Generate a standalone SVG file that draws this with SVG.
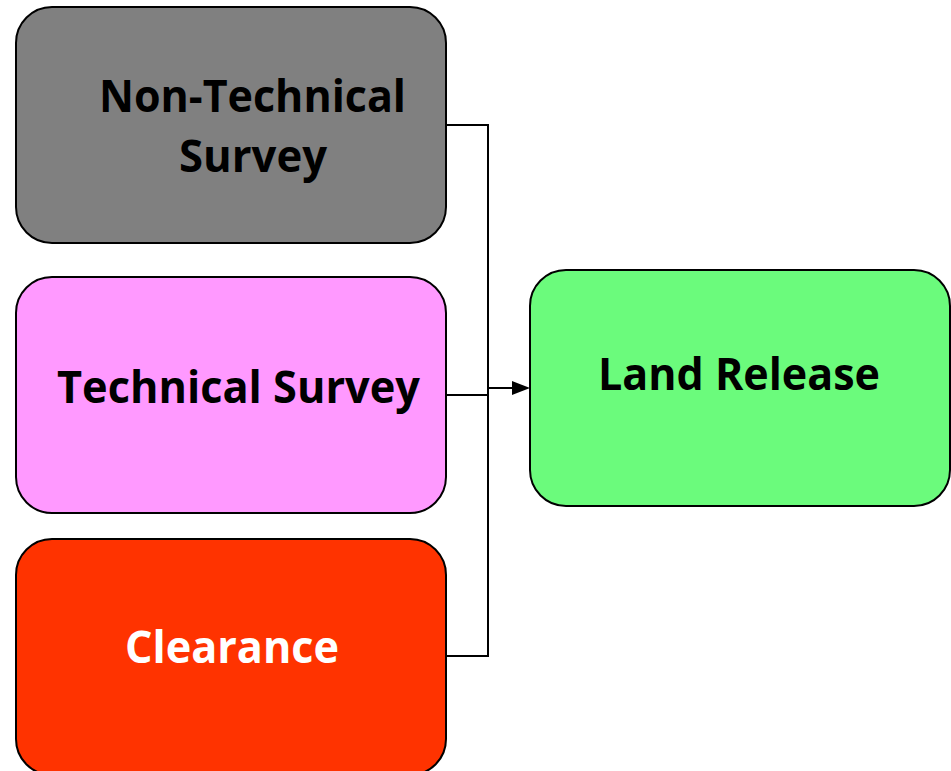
<svg xmlns="http://www.w3.org/2000/svg" width="951" height="771" viewBox="0 0 951 771">
<style>
.box{stroke:#000;stroke-width:2}
.lbl{font-family:"Open Sans","Liberation Sans",sans-serif;font-weight:bold;font-size:44px}
.conn{fill:none;stroke:#000;stroke-width:2}
</style>
<defs>
<marker id="arr" markerWidth="10" markerHeight="10" refX="9" refY="5" orient="auto" markerUnits="userSpaceOnUse" viewBox="0 0 10 10">
<path d="M0,0 L10,5 L0,10 Z" fill="#000"/>
</marker>
</defs>
<rect width="951" height="771" fill="#fff"/>
<g id="connectors">
<path class="conn" d="M446,125 H488 V656 H446"/>
<path class="conn" d="M446,395 H488"/>
<path d="M488,388 H512" class="conn"/>
<path d="M512,381 L530,388 L512,395 Z" fill="#000"/>
</g>
<g id="non-technical-survey">
<rect class="box" x="16" y="7" width="430" height="236" rx="36" fill="#808080"/>
<text class="lbl" x="99" y="112" textLength="307" lengthAdjust="spacingAndGlyphs">Non-Technical</text>
<text class="lbl" x="179" y="172" textLength="148" lengthAdjust="spacingAndGlyphs">Survey</text>
</g>
<g id="technical-survey">
<rect class="box" x="16" y="277" width="430" height="236" rx="36" fill="#FF99FF"/>
<text class="lbl" x="57" y="403" textLength="363" lengthAdjust="spacingAndGlyphs">Technical Survey</text>
</g>
<g id="clearance">
<rect class="box" x="16" y="539" width="430" height="236" rx="36" fill="#FF3300"/>
<text class="lbl" x="125" y="663" textLength="214" lengthAdjust="spacingAndGlyphs" fill="#fff">Clearance</text>
</g>
<g id="land-release">
<rect class="box" x="530" y="270" width="420" height="236" rx="36" fill="#6BFB7C"/>
<text class="lbl" x="598" y="390" textLength="282" lengthAdjust="spacingAndGlyphs">Land Release</text>
</g>
</svg>
